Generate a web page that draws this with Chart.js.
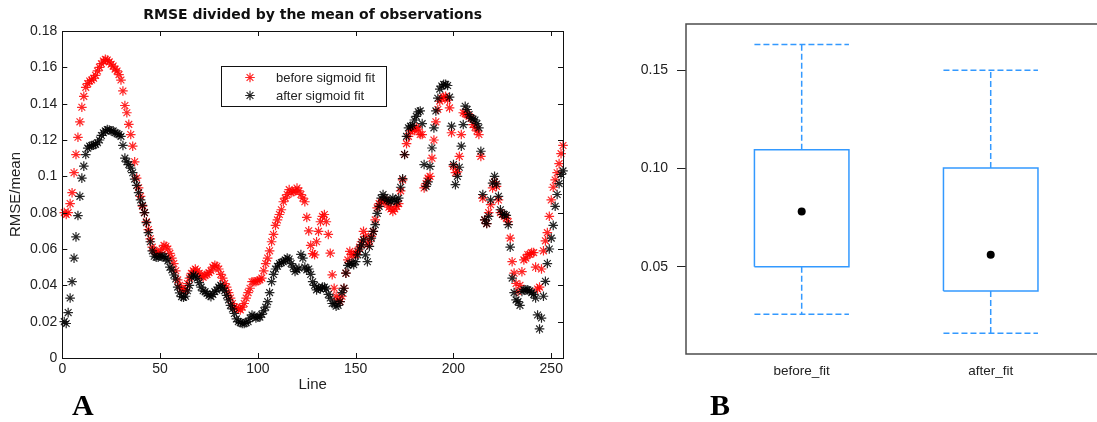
<!DOCTYPE html>
<html>
<head>
<meta charset="utf-8">
<script src="https://cdn.jsdelivr.net/npm/chart.js@4.4.1/dist/chart.umd.min.js"></script>
<style>
  html, body { margin: 0; padding: 0; background: #fff; overflow: hidden; width: 1097px; height: 422px; }
  #panelA { position: absolute; left: 0; top: 0; }
  #panelB { position: absolute; left: 600px; top: 0; }
  .tag { position: absolute; font: bold 30px "Liberation Serif", "Times New Roman", serif; line-height: 30px; color: #000; }
</style>
</head>
<body>
<canvas id="panelA" width="600" height="422"></canvas>
<canvas id="panelB" width="520" height="422"></canvas>
<div class="tag" style="left:72px; top:390px">A</div>
<div class="tag" style="left:710px; top:390px">B</div>
<script>
// panel A: RMSE/mean per line
const beforeFit = [
  0.080, 0.079, 0.080, 0.085, 0.091, 0.102, 0.112, 0.1215, 0.130, 0.138,
  0.144, 0.149, 0.151, 0.1525, 0.153, 0.154, 0.1556, 0.158, 0.160, 0.162,
  0.1635, 0.1644, 0.164, 0.163, 0.1617, 0.1607, 0.159, 0.158, 0.156, 0.153,
  0.147, 0.139, 0.135, 0.1286, 0.123, 0.1166, 0.108, 0.099, 0.0937, 0.089,
  0.0836, 0.080, 0.075, 0.0707, 0.0656, 0.061, 0.059, 0.058, 0.058, 0.058,
  0.060, 0.062, 0.0615, 0.060, 0.0576, 0.055, 0.052, 0.048, 0.043, 0.040,
  0.038, 0.037, 0.0375, 0.041, 0.044, 0.0466, 0.048, 0.049, 0.048, 0.0466,
  0.045, 0.0445, 0.0455, 0.046, 0.047, 0.048, 0.050, 0.051, 0.0505, 0.049,
  0.046, 0.044, 0.041, 0.039, 0.036, 0.033, 0.030, 0.028, 0.0274, 0.027,
  0.0265, 0.028, 0.030, 0.033, 0.036, 0.0384, 0.042, 0.042, 0.042, 0.0425,
  0.043, 0.044, 0.048, 0.052, 0.055, 0.059, 0.064, 0.068, 0.073, 0.076,
  0.079, 0.0816, 0.086, 0.088, 0.090, 0.0927, 0.091, 0.0915, 0.092, 0.0936,
  0.092, 0.090, 0.088, 0.086, 0.0774, 0.070, 0.062, 0.0575, 0.0568, 0.064,
  0.0697, 0.075, 0.078, 0.079, 0.075, 0.068, 0.0577, 0.0458, 0.0384, 0.034,
  0.032, 0.031, 0.034, 0.0384, 0.0467, 0.054, 0.0587, 0.057, 0.057, 0.057,
  0.0587, 0.061, 0.064, 0.0697, 0.067, 0.0623, 0.064, 0.067, 0.0697, 0.076,
  0.0826, 0.085, 0.086, 0.0865, 0.087, 0.085, 0.083, 0.082, 0.0807, 0.082,
  0.0835, 0.085, 0.092, 0.098, 0.112, 0.118, 0.122, 0.125, 0.1255, 0.1252,
  0.127, 0.126, 0.123, 0.123, 0.0936, 0.096, 0.099, 0.100, 0.110, 0.120,
  0.130, 0.1368, 0.1414, 0.143, 0.1435, 0.144, 0.142, 0.1377, 0.124, 0.1055,
  0.102, 0.1025, 0.111, 0.123, 0.135, 0.1345, 0.134, 0.133, 0.132, 0.1285,
  0.127, 0.125, 0.123, 0.111, 0.088, 0.076, 0.074, 0.080, 0.0844, 0.0936,
  0.097, 0.0945, 0.087, 0.080, 0.079, 0.078, 0.077, 0.075, 0.066, 0.053,
  0.0467, 0.041, 0.0366, 0.040, 0.0475, 0.054, 0.055, 0.057, 0.057, 0.058,
  0.058, 0.050, 0.038, 0.039, 0.049, 0.059, 0.0645, 0.069, 0.078, 0.087,
  0.094, 0.098, 0.102, 0.107, 0.1125, 0.117
];
const afterFit = [
  0.020, 0.019, 0.025, 0.033, 0.042, 0.055, 0.0667, 0.0784, 0.089, 0.099,
  0.1056, 0.112, 0.1155, 0.1166, 0.117, 0.1172, 0.1176, 0.1185, 0.120, 0.1225,
  0.124, 0.125, 0.1258, 0.1255, 0.125, 0.125, 0.124, 0.1235, 0.123, 0.122,
  0.117, 0.110, 0.108, 0.1065, 0.1045, 0.102, 0.0985, 0.095, 0.091, 0.087,
  0.084, 0.080, 0.0745, 0.069, 0.064, 0.059, 0.056, 0.0555, 0.0555, 0.056,
  0.0558, 0.0558, 0.055, 0.0535, 0.050, 0.0485, 0.0457, 0.0435, 0.039, 0.0358,
  0.0338, 0.0334, 0.034, 0.037, 0.040, 0.0445, 0.0457, 0.045, 0.0439, 0.0415,
  0.039, 0.037, 0.0365, 0.0355, 0.0345, 0.0338, 0.035, 0.0365, 0.0374, 0.039,
  0.040, 0.0385, 0.037, 0.0345, 0.032, 0.029, 0.027, 0.0245, 0.0215, 0.020,
  0.0195, 0.019, 0.019, 0.0195, 0.020, 0.022, 0.0237, 0.023, 0.022, 0.0225,
  0.0225, 0.024, 0.026, 0.028, 0.031, 0.036, 0.042, 0.046, 0.049, 0.0505,
  0.052, 0.0525, 0.053, 0.054, 0.055, 0.0545, 0.052, 0.050, 0.0476, 0.0485,
  0.0494, 0.057, 0.055, 0.050, 0.0485, 0.049, 0.046, 0.042, 0.040, 0.0375,
  0.0385, 0.038, 0.039, 0.039, 0.038, 0.035, 0.033, 0.030, 0.030, 0.0285,
  0.029, 0.031, 0.036, 0.0384, 0.0467, 0.051, 0.052, 0.052, 0.0513, 0.053,
  0.0568, 0.060, 0.0623, 0.065, 0.0568, 0.053, 0.0614, 0.066, 0.0697, 0.0734,
  0.0796, 0.0835, 0.088, 0.090, 0.0885, 0.087, 0.0865, 0.086, 0.088, 0.087,
  0.086, 0.088, 0.094, 0.0987, 0.112, 0.122, 0.1267, 0.1276, 0.128, 0.131,
  0.133, 0.1355, 0.136, 0.129, 0.1065, 0.0945, 0.097, 0.1055, 0.1156, 0.1267,
  0.136, 0.143, 0.148, 0.1497, 0.1506, 0.1506, 0.150, 0.1436, 0.1276, 0.1065,
  0.0954, 0.100, 0.105, 0.1166, 0.1285, 0.1386, 0.1368, 0.134, 0.132, 0.1315,
  0.131, 0.129, 0.1267, 0.1138, 0.090, 0.076, 0.074, 0.078, 0.087, 0.0963,
  0.100, 0.0958, 0.089, 0.0816, 0.079, 0.079, 0.0785, 0.0734, 0.061, 0.044,
  0.036, 0.032, 0.031, 0.029, 0.0366, 0.0375, 0.0375, 0.0375, 0.037, 0.036,
  0.035, 0.033, 0.0237, 0.016, 0.022, 0.034, 0.0422, 0.052, 0.060, 0.066,
  0.073, 0.0835, 0.090, 0.096, 0.101, 0.103
];
const lineNumbers = beforeFit.map((_, i) => i + 1);
const lineTicks = [0, 50, 100, 150, 200, 250];
const rmseTicks = [0, 0.02, 0.04, 0.06, 0.08, 0.1, 0.12, 0.14, 0.16, 0.18];

// panel B: box plot summary
const boxLabels = ['before_fit', 'after_fit'];
const boxLow = [0.0258, 0.0161];
const boxQ1 = [0.0500, 0.0376];
const boxQ3 = [0.1095, 0.1003];
const boxHigh = [0.1632, 0.1500];
const boxMean = [0.0781, 0.0560];
const boxTicks = [0.05, 0.10, 0.15];

Chart.defaults.font.family = '"Liberation Sans", Arial, sans-serif';

const RED = 'rgba(255,0,0,0.85)';
const BLACK = 'rgba(0,0,0,0.85)';

function drawStar(ctx, x, y, r) {
  ctx.beginPath();
  for (let k = 0; k < 4; k++) {
    const a = k * Math.PI / 4;
    ctx.moveTo(x + r * Math.cos(a), y + r * Math.sin(a));
    ctx.lineTo(x - r * Math.cos(a), y - r * Math.sin(a));
  }
  ctx.stroke();
}

// matlab style box: frame all round, ticks pointing in
const matlabFrame = {
  id: 'matlabFrame',
  afterDatasetsDraw(chart) {
    const { ctx, chartArea: a, scales: { x, y } } = chart;
    ctx.save();
    ctx.strokeStyle = '#111';
    ctx.lineWidth = 1;
    ctx.beginPath();
    x.ticks.forEach(t => {
      const px = Math.round(x.getPixelForValue(t.value)) + 0.5;
      ctx.moveTo(px, a.bottom); ctx.lineTo(px, a.bottom - 5);
      ctx.moveTo(px, a.top); ctx.lineTo(px, a.top + 5);
    });
    y.ticks.forEach(t => {
      const py = Math.round(y.getPixelForValue(t.value)) + 0.5;
      ctx.moveTo(a.left, py); ctx.lineTo(a.left + 5, py);
      ctx.moveTo(a.right, py); ctx.lineTo(a.right - 5, py);
    });
    ctx.stroke();
    ctx.strokeRect(Math.round(a.left) + 0.5, Math.round(a.top) + 0.5, Math.round(a.width), Math.round(a.height));
    ctx.restore();
  }
};

const matlabLegend = {
  id: 'matlabLegend',
  afterDraw(chart) {
    const { ctx } = chart;
    const box = { left: 221, top: 66, width: 165, height: 40 };
    ctx.save();
    ctx.fillStyle = '#fff';
    ctx.fillRect(box.left, box.top, box.width, box.height);
    ctx.strokeStyle = '#111';
    ctx.lineWidth = 1;
    ctx.strokeRect(box.left + 0.5, box.top + 0.5, box.width, box.height);
    ctx.font = '13px "Liberation Sans", Arial, sans-serif';
    ctx.textBaseline = 'middle';
    ctx.textAlign = 'left';
    chart.data.datasets.forEach((ds, i) => {
      const yy = box.top + 11.5 + i * 18;
      ctx.strokeStyle = ds.borderColor;
      ctx.lineWidth = 1.2;
      drawStar(ctx, box.left + 29, yy, 4.8);
      ctx.fillStyle = '#222';
      ctx.fillText(ds.label, box.left + 55, yy + 0.5);
    });
    ctx.restore();
  }
};

new Chart(document.getElementById('panelA'), {
  type: 'scatter',
  data: {
    datasets: [
      {
        label: 'before sigmoid fit',
        data: lineNumbers.map((n, i) => ({ x: n, y: beforeFit[i] })),
        order: 1,
        borderColor: RED,
        backgroundColor: RED,
        pointStyle: 'star',
        pointRadius: 4.8,
        pointBorderWidth: 1.2,
        clip: false
      },
      {
        label: 'after sigmoid fit',
        data: lineNumbers.map((n, i) => ({ x: n, y: afterFit[i] })),
        order: 0,
        borderColor: BLACK,
        backgroundColor: BLACK,
        pointStyle: 'star',
        pointRadius: 4.8,
        pointBorderWidth: 1.2,
        clip: false
      }
    ]
  },
  options: {
    responsive: false,
    animation: false,
    layout: { padding: { left: 0, right: 37, top: 0, bottom: 0 } },
    plugins: {
      legend: { display: false },
      tooltip: { enabled: false },
      title: {
        display: true,
        fullSize: false,
        text: 'RMSE divided by the mean of observations',
        color: '#111',
        font: { family: '"DejaVu Sans", sans-serif', size: 14, weight: 'bold' },
        padding: { top: 7, bottom: 7.2 }
      }
    },
    scales: {
      x: {
        type: 'linear',
        min: 0,
        max: 256,
        afterBuildTicks: s => { s.ticks = lineTicks.map(v => ({ value: v })); },
        afterFit: s => { s.height = 64; },
        grid: { display: false, drawTicks: false },
        border: { display: false },
        ticks: { padding: 3, color: '#222', font: { size: 14 }, maxRotation: 0, autoSkip: false },
        title: { display: true, text: 'Line', color: '#222', font: { size: 15 }, padding: { top: 28, bottom: 28 } }
      },
      y: {
        min: 0,
        max: 0.18,
        afterBuildTicks: s => { s.ticks = rmseTicks.map(v => ({ value: v })); },
        afterFit: s => { s.width = 62.3; },
        grid: { display: false, drawTicks: false },
        border: { display: false },
        ticks: { padding: 5, color: '#222', font: { size: 14 }, callback: v => String(+v.toFixed(2)) },
        title: { display: true, text: 'RMSE/mean', color: '#222', font: { size: 15 }, padding: { top: 7, bottom: 7 } }
      }
    }
  },
  plugins: [matlabFrame, matlabLegend]
});

// box plot drawn from line segments on a linear x axis
const BLUE = '#3399ff';
const halfWidth = 0.25;
const sideRoom = 0.612;
const solid = { showLine: true, borderColor: BLUE, borderWidth: 1.5, pointRadius: 0, fill: false, tension: 0, clip: false };
const dashed = Object.assign({}, solid, { borderDash: [6, 3] });

const boxSets = [];
boxLabels.forEach((name, i) => {
  const c = i + 1, w = halfWidth;
  boxSets.push(Object.assign({ data: [
    { x: c - w, y: boxQ1[i] }, { x: c + w, y: boxQ1[i] },
    { x: c + w, y: boxQ3[i] }, { x: c - w, y: boxQ3[i] }, { x: c - w, y: boxQ1[i] }
  ] }, solid));
  boxSets.push(Object.assign({ data: [{ x: c, y: boxQ3[i] }, { x: c, y: boxHigh[i] }] }, dashed));
  boxSets.push(Object.assign({ data: [{ x: c - w, y: boxHigh[i] }, { x: c + w, y: boxHigh[i] }] }, dashed));
  boxSets.push(Object.assign({ data: [{ x: c, y: boxQ1[i] }, { x: c, y: boxLow[i] }] }, dashed));
  boxSets.push(Object.assign({ data: [{ x: c - w, y: boxLow[i] }, { x: c + w, y: boxLow[i] }] }, dashed));
});
boxSets.push({
  data: boxMean.map((m, i) => ({ x: i + 1, y: m })),
  showLine: false,
  pointRadius: 4,
  pointStyle: 'circle',
  backgroundColor: '#000',
  borderColor: '#000',
  borderWidth: 0,
  order: -1
});

const grayFrame = {
  id: 'grayFrame',
  afterDatasetsDraw(chart) {
    const { ctx, chartArea: a } = chart;
    ctx.save();
    ctx.strokeStyle = '#4d4d4d';
    ctx.lineWidth = 1.5;
    ctx.strokeRect(a.left, a.top, a.width, a.height);
    ctx.restore();
  }
};

new Chart(document.getElementById('panelB'), {
  type: 'scatter',
  data: { datasets: boxSets },
  options: {
    responsive: false,
    animation: false,
    layout: { padding: { left: 0, right: 13.6, top: 24, bottom: 0 } },
    plugins: { legend: { display: false }, tooltip: { enabled: false } },
    scales: {
      x: {
        type: 'linear',
        min: 1 - sideRoom,
        max: 2 + sideRoom,
        afterBuildTicks: s => { s.ticks = boxLabels.map((_, i) => ({ value: i + 1 })); },
        afterFit: s => { s.height = 68; },
        grid: { display: false, drawTicks: false },
        border: { display: false },
        ticks: {
          padding: 9, color: '#222', font: { size: 13.5 }, maxRotation: 0, autoSkip: false,
          callback: v => boxLabels[Math.round(v) - 1]
        }
      },
      y: {
        min: 0.0055,
        max: 0.1736,
        afterBuildTicks: s => { s.ticks = boxTicks.map(v => ({ value: v })); },
        afterFit: s => { s.width = 86; },
        grid: { display: true, drawOnChartArea: false, drawTicks: true, tickLength: 9, color: '#222' },
        border: { display: false },
        ticks: { padding: 9, color: '#222', font: { size: 14 }, callback: v => v.toFixed(2) }
      }
    }
  },
  plugins: [grayFrame]
});
</script>
</body>
</html>
